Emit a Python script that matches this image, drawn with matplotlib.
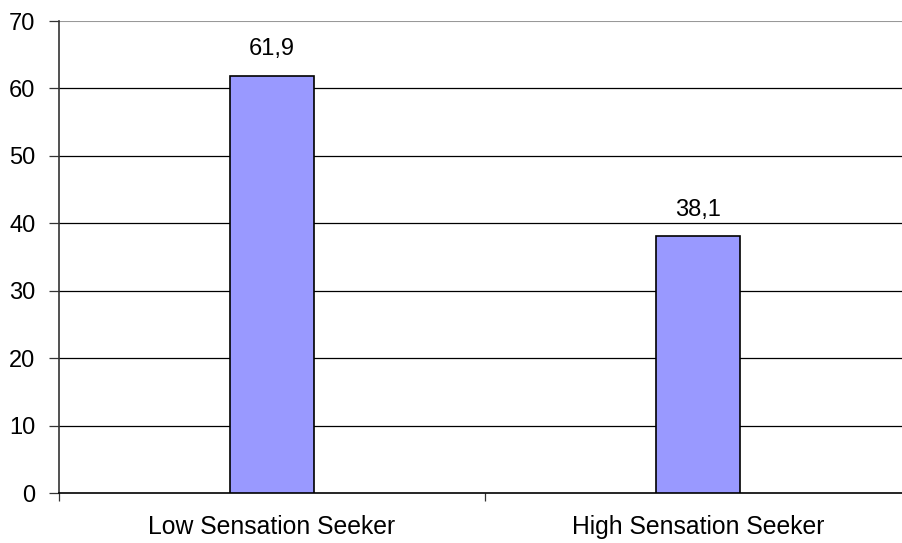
import matplotlib.pyplot as plt
import numpy as np

# Percent of respondents per sensation-seeking group
categories = ['Low Sensation Seeker', 'High Sensation Seeker']
values = [61.9, 38.1]
value_labels = ['61,9', '38,1']
yticks = [0, 10, 20, 30, 40, 50, 60, 70]

plt.rcParams['font.family'] = ['Liberation Sans', 'DejaVu Sans']
FS = 17

fig = plt.figure(figsize=(9.03, 5.43), dpi=100)
# plot area runs a little past the right edge of the image
ax = fig.add_axes([59 / 903, (543 - 493) / 543, 852 / 903, 472 / 543])

x = np.arange(len(categories))
ax.bar(x, values, width=0.197, color='#9999FF', edgecolor='black', linewidth=1.2, zorder=3)

for xi, v, lab in zip(x, values, value_labels):
    ax.annotate(lab, (xi, v), xytext=(0, 11), textcoords='offset points',
                ha='center', va='bottom', fontsize=FS)

ax.set_xlim(-0.5, len(categories) - 0.5)
ax.set_ylim(0, 70)
ax.set_yticks(yticks)
ax.set_yticklabels([str(t) for t in yticks], fontsize=FS)
# horizontal rules at 10..60, the top one is drawn lighter below
for t in yticks[1:-1]:
    ax.axhline(t, color='black', linewidth=0.9, zorder=0)
ax.axhline(70, color='#999999', linewidth=1.5, zorder=1)

# category labels centred, ticks on the category boundaries
ax.set_xticks(x)
ax.set_xticklabels(categories, fontsize=17.8)
ax.tick_params(axis='x', length=0, pad=16)
ax.set_xticks(np.arange(len(categories) + 1) - 0.5, minor=True)
ax.tick_params(axis='x', which='minor', length=6, width=0.9, color='#333333')
ax.tick_params(axis='y', length=7, width=0.9, color='#333333', pad=10)

for side in ['top', 'right']:
    ax.spines[side].set_visible(False)
ax.spines['left'].set_color('#333333')
ax.spines['bottom'].set_color('black')
ax.spines['left'].set_linewidth(1.2)
ax.spines['bottom'].set_linewidth(1.2)

fig.savefig('out.png', dpi=100)
